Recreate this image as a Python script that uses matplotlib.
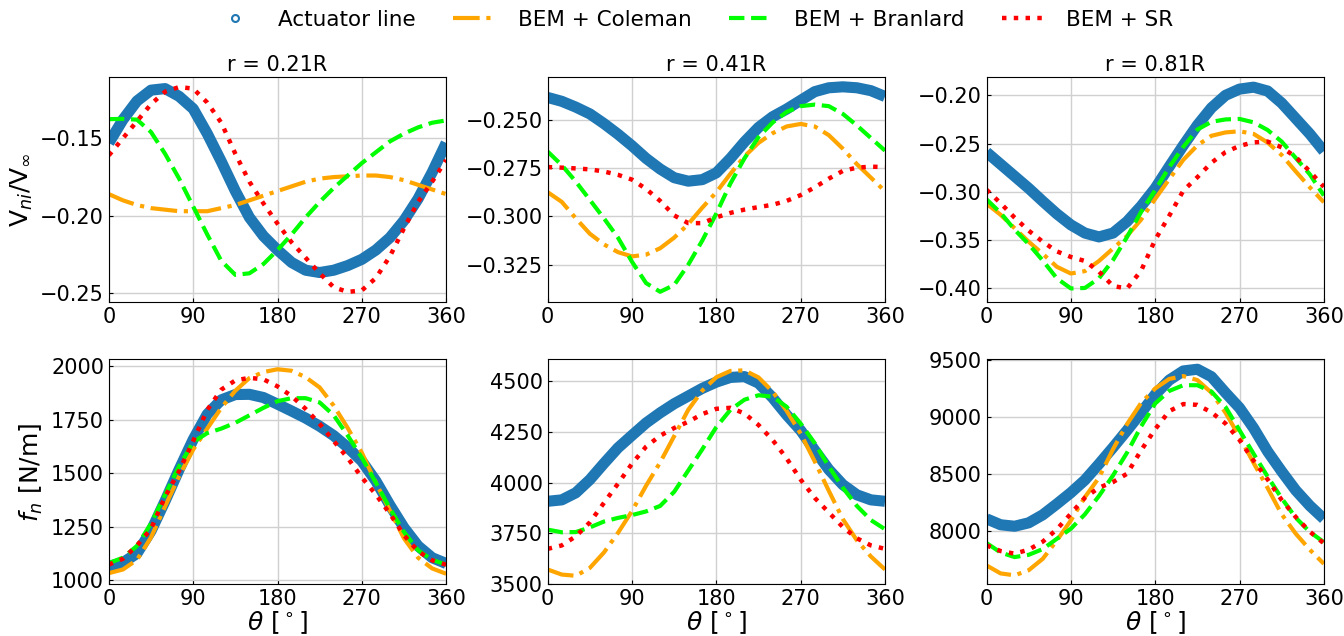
import numpy as np
import matplotlib.pyplot as plt
from matplotlib.lines import Line2D

# azimuth angle (deg), sampled every 15 degrees
theta = np.arange(0, 361, 15)

titles = ["r = 0.21R", "r = 0.41R", "r = 0.81R"]
labels = ["Actuator line", "BEM + Coleman", "BEM + Branlard", "BEM + SR"]

# ---- induced velocity V_ni / V_inf ----
vni_al_021 = [-0.153, -0.138, -0.126, -0.119, -0.118, -0.123, -0.131, -0.147, -0.165, -0.184, -0.201, -0.213, -0.222,
              -0.230, -0.235, -0.2365, -0.235, -0.232, -0.228, -0.222, -0.214, -0.203, -0.189, -0.172, -0.153]
vni_col_021 = [-0.186, -0.190, -0.193, -0.195, -0.196, -0.197, -0.197, -0.197, -0.195, -0.193, -0.190, -0.187, -0.184,
               -0.181, -0.178, -0.176, -0.175, -0.1745, -0.174, -0.174, -0.175, -0.177, -0.180, -0.183, -0.186]
vni_bra_021 = [-0.1377, -0.1375, -0.138, -0.146, -0.160, -0.176, -0.194, -0.212, -0.229, -0.238, -0.237, -0.231, -0.222,
               -0.212, -0.201, -0.191, -0.182, -0.174, -0.166, -0.159, -0.152, -0.147, -0.143, -0.140, -0.1385]
vni_sr_021 = [-0.161, -0.150, -0.139, -0.128, -0.120, -0.117, -0.118, -0.127, -0.140, -0.160, -0.178, -0.192, -0.205,
              -0.217, -0.227, -0.237, -0.246, -0.249, -0.248, -0.240, -0.226, -0.208, -0.191, -0.178, -0.164]

vni_al_041 = [-0.2385, -0.2405, -0.2435, -0.247, -0.252, -0.2575, -0.2635, -0.270, -0.2755, -0.2800, -0.2818, -0.2810,
              -0.2775, -0.2700, -0.2615, -0.2540, -0.2485, -0.2445, -0.2400, -0.2355, -0.2335, -0.2330, -0.2335,
              -0.2350, -0.2380]
vni_col_041 = [-0.2875, -0.2925, -0.3010, -0.3090, -0.3145, -0.3185, -0.3207, -0.3198, -0.3165, -0.3110, -0.3040,
               -0.2955, -0.2875, -0.2780, -0.2690, -0.2620, -0.2570, -0.2535, -0.2522, -0.2535, -0.2580, -0.2650,
               -0.2730, -0.2800, -0.2870]
vni_bra_041 = [-0.2665, -0.2735, -0.2820, -0.2915, -0.3010, -0.3110, -0.3235, -0.3345, -0.3390, -0.3355, -0.3250,
               -0.3125, -0.2985, -0.2830, -0.2700, -0.2590, -0.2515, -0.2460, -0.2430, -0.2422, -0.2430, -0.2470,
               -0.2530, -0.2595, -0.2660]
vni_sr_041 = [-0.2745, -0.2748, -0.2752, -0.2757, -0.2768, -0.2785, -0.2810, -0.2858, -0.2920, -0.2995, -0.3035,
              -0.3035, -0.3005, -0.2982, -0.2965, -0.2952, -0.2940, -0.2920, -0.2890, -0.2850, -0.2805, -0.2765,
              -0.2748, -0.2743, -0.2745]

vni_al_081 = [-0.2590, -0.2715, -0.2840, -0.2965, -0.3100, -0.3230, -0.3345, -0.3430, -0.3470, -0.3430, -0.3310,
              -0.3150, -0.2965, -0.2740, -0.2520, -0.2310, -0.2130, -0.2000, -0.1935, -0.1915, -0.1955, -0.2080,
              -0.2240, -0.2400, -0.2580]
vni_col_081 = [-0.3125, -0.3240, -0.3380, -0.3520, -0.3645, -0.3780, -0.3850, -0.3825, -0.3720, -0.3590, -0.3460,
               -0.3290, -0.3075, -0.2870, -0.2670, -0.2520, -0.2420, -0.2385, -0.2373, -0.2400, -0.2490, -0.2620,
               -0.2790, -0.2955, -0.3110]
vni_bra_081 = [-0.3080, -0.3220, -0.3395, -0.3545, -0.3715, -0.3900, -0.4005, -0.4000, -0.3900, -0.3710, -0.3470,
               -0.3210, -0.2985, -0.2745, -0.2535, -0.2355, -0.2275, -0.2250, -0.2245, -0.2280, -0.2360, -0.2480,
               -0.2650, -0.2820, -0.3040]
vni_sr_081 = [-0.2980, -0.3120, -0.3270, -0.3405, -0.3520, -0.3620, -0.3678, -0.3720, -0.3830, -0.3980, -0.4005,
              -0.3820, -0.3500, -0.3250, -0.2990, -0.2850, -0.2700, -0.2590, -0.2525, -0.2488, -0.2480, -0.2540,
              -0.2640, -0.2790, -0.2950]

# ---- normal force f_n [N/m] ----
fn_al_021 = [1065, 1082, 1125, 1230, 1370, 1517, 1657, 1775, 1842, 1867, 1868, 1853, 1822,
             1790, 1757, 1719, 1675, 1620, 1556, 1463, 1350, 1245, 1160, 1105, 1078]
fn_col_021 = [1033, 1050, 1095, 1200, 1345, 1486, 1610, 1708, 1805, 1885, 1944, 1972, 1985,
              1978, 1948, 1900, 1815, 1710, 1595, 1455, 1325, 1195, 1105, 1055, 1030]
fn_bra_021 = [1080, 1105, 1160, 1265, 1400, 1533, 1645, 1687, 1708, 1735, 1770, 1805, 1836,
              1850, 1850, 1830, 1770, 1675, 1572, 1455, 1335, 1225, 1140, 1095, 1073]
fn_sr_021 = [1073, 1100, 1162, 1240, 1390, 1510, 1650, 1795, 1890, 1933, 1945, 1938, 1905,
             1860, 1800, 1730, 1650, 1570, 1480, 1400, 1310, 1210, 1135, 1093, 1072]

fn_al_041 = [3908, 3915, 3950, 4015, 4095, 4172, 4234, 4295, 4345, 4390, 4428, 4466, 4497,
             4520, 4524, 4492, 4420, 4335, 4258, 4160, 4065, 3990, 3940, 3915, 3908]
fn_col_041 = [3571, 3546, 3540, 3579, 3655, 3752, 3860, 3985, 4100, 4230, 4360, 4455, 4521,
              4552, 4555, 4520, 4450, 4355, 4242, 4105, 3960, 3820, 3715, 3635, 3571]
fn_bra_041 = [3768, 3755, 3756, 3779, 3808, 3826, 3840, 3858, 3885, 3955, 4060, 4165, 4275,
              4360, 4410, 4432, 4425, 4375, 4292, 4195, 4080, 3975, 3885, 3815, 3770]
fn_sr_041 = [3673, 3690, 3735, 3804, 3900, 3995, 4094, 4178, 4232, 4270, 4301, 4339, 4365,
             4370, 4342, 4285, 4211, 4120, 4015, 3925, 3853, 3781, 3725, 3690, 3673]

fn_al_081 = [8110, 8058, 8045, 8075, 8145, 8240, 8339, 8450, 8590, 8735, 8885, 9040, 9199,
             9325, 9405, 9420, 9355, 9215, 9082, 8905, 8700, 8525, 8360, 8225, 8110]
fn_col_081 = [7702, 7632, 7615, 7660, 7760, 7920, 8096, 8300, 8470, 8720, 8940, 9125, 9252,
              9335, 9360, 9325, 9215, 9040, 8828, 8600, 8380, 8150, 7980, 7840, 7716]
fn_bra_081 = [7898, 7815, 7775, 7795, 7845, 7935, 8023, 8150, 8310, 8490, 8690, 8920, 9120,
              9230, 9280, 9280, 9225, 9090, 8886, 8680, 8480, 8290, 8120, 7995, 7906]
fn_sr_081 = [7877, 7828, 7805, 7840, 7910, 8018, 8155, 8295, 8383, 8432, 8505, 8710, 8895,
             9053, 9115, 9108, 9043, 8945, 8800, 8620, 8455, 8275, 8126, 7998, 7895]

vni_data = [(vni_al_021, vni_col_021, vni_bra_021, vni_sr_021),
            (vni_al_041, vni_col_041, vni_bra_041, vni_sr_041),
            (vni_al_081, vni_col_081, vni_bra_081, vni_sr_081)]
fn_data = [(fn_al_021, fn_col_021, fn_bra_021, fn_sr_021),
           (fn_al_041, fn_col_041, fn_bra_041, fn_sr_041),
           (fn_al_081, fn_col_081, fn_bra_081, fn_sr_081)]

vni_lims = [(-0.2555, -0.1105), (-0.3443, -0.2279), (-0.4146, -0.1809)]
vni_ticks = [[-0.25, -0.20, -0.15], [-0.325, -0.300, -0.275, -0.250], [-0.40, -0.35, -0.30, -0.25, -0.20]]
vni_fmt = ['%.2f', '%.3f', '%.2f']
fn_lims = [(980, 2031), (3497, 4609), (7535, 9506)]
fn_ticks = [[1000, 1250, 1500, 1750, 2000], [3500, 3750, 4000, 4250, 4500], [8000, 8500, 9000, 9500]]

c_al = '#1f77b4'
styles = [dict(color='orange', ls='-.', lw=3.0),
          dict(color='lime', ls='--', lw=3.0),
          dict(color='red', ls=':', lw=3.2)]

fig, axes = plt.subplots(2, 3, figsize=(13.44, 6.36), dpi=100)
fig.subplots_adjust(left=0.081, right=0.985, top=0.879, bottom=0.081, wspace=0.301, hspace=0.255)


def draw(ax, series, lims, ticks):
    ax.plot(theta, series[0], color=c_al, lw=8.0, solid_joinstyle='round', solid_capstyle='butt')
    for s, st in zip(series[1:], styles):
        ax.plot(theta, s, dash_joinstyle='round', **st)
    ax.set_xlim(0, 360)
    ax.set_xticks([0, 90, 180, 270, 360])
    ax.set_ylim(*lims)
    ax.set_yticks(ticks)
    ax.grid(True, color='#d0d0d0', lw=1.0)
    ax.set_axisbelow(True)
    ax.tick_params(direction='in', labelsize=15, length=3)


for j in range(3):
    ax = axes[0, j]
    draw(ax, vni_data[j], vni_lims[j], vni_ticks[j])
    ax.yaxis.set_major_formatter(plt.FuncFormatter(
        lambda v, p, f=vni_fmt[j]: (f % v).replace('-', '\u2212')))
    ax.set_title(titles[j], fontsize=15, pad=4)
    ax = axes[1, j]
    draw(ax, fn_data[j], fn_lims[j], fn_ticks[j])
    ax.set_xlabel(r'$\theta$ [$^\circ$]', fontsize=18, labelpad=0)

axes[0, 0].set_ylabel(r'V$_{ni}$/V$_{\infty}$', fontsize=18)
axes[1, 0].set_ylabel(r'$f_n$ [N/m]', fontsize=18)

handles = [Line2D([], [], color=c_al, marker='o', ls='none', mfc='none', ms=5, mew=1.5)]
handles += [Line2D([], [], **st) for st in styles]
fig.legend(handles, labels, loc='upper center', bbox_to_anchor=(0.516, 1.015), ncol=4, frameon=False,
           fontsize=15.5, handlelength=2.0, handletextpad=1.0, columnspacing=1.75)

plt.savefig('out.png', dpi=100)
